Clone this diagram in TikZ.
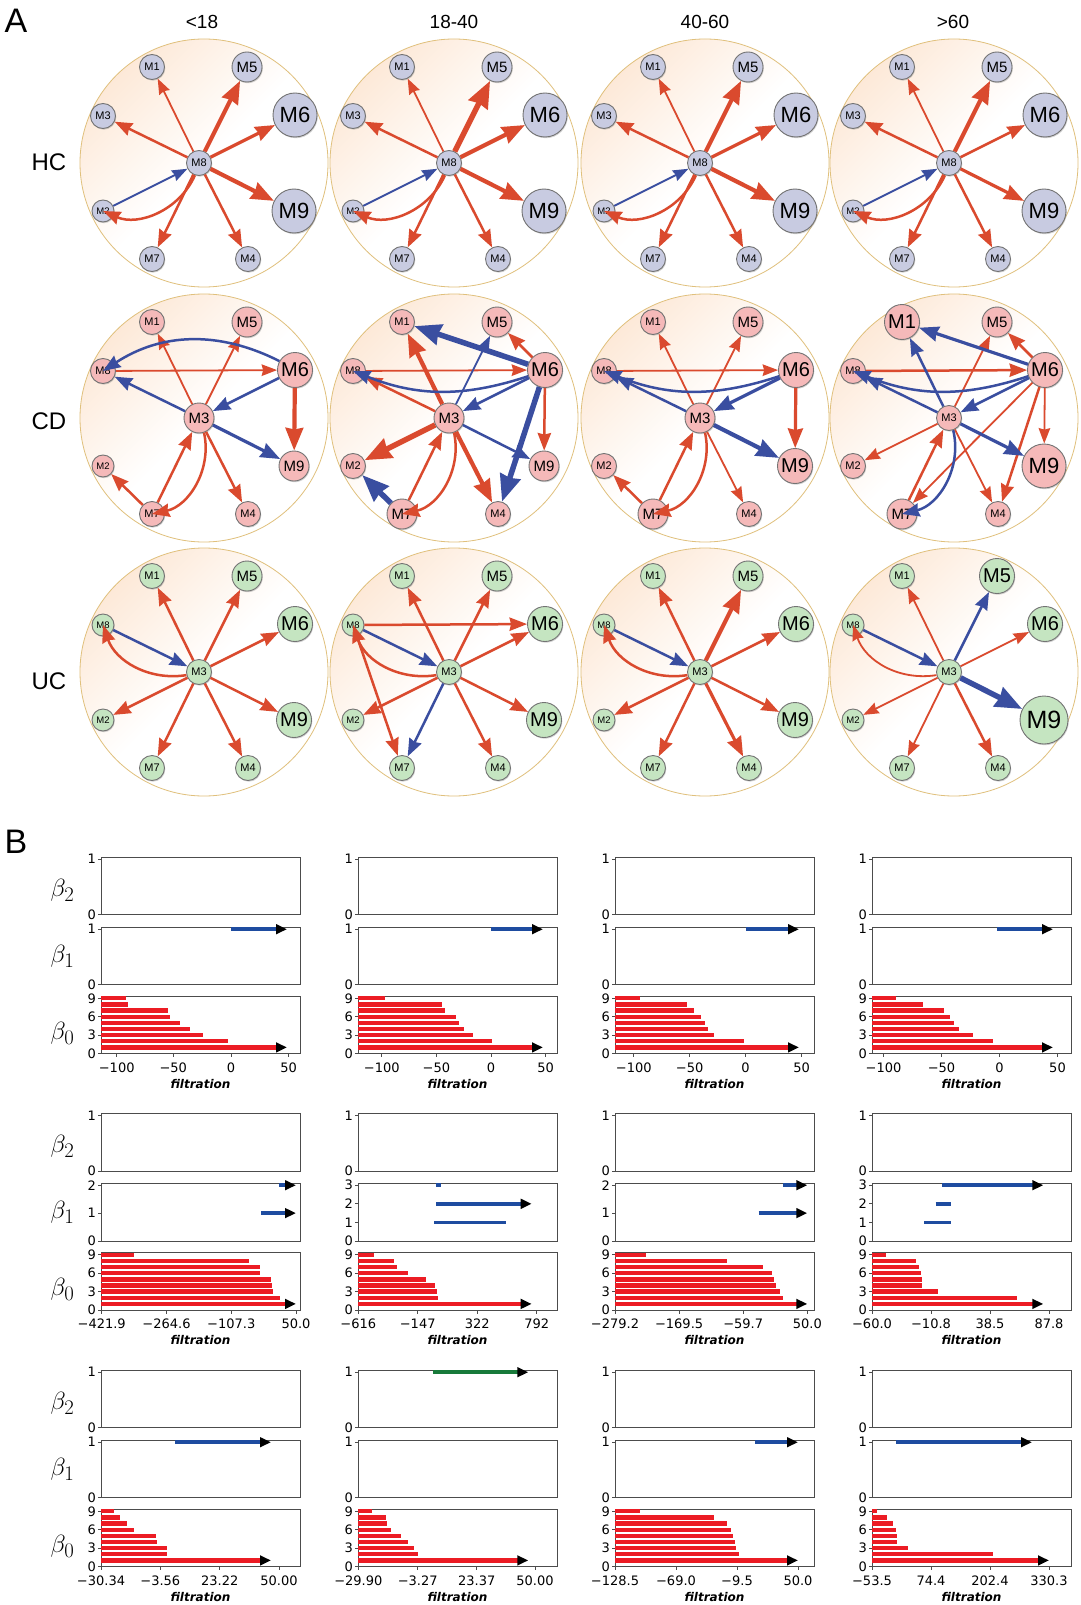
\documentclass[tikz,border=0pt]{standalone}
\usepackage{fontspec}
\setmainfont{Liberation Sans}
\newfontfamily\dejavu{DejaVu Sans}
\usetikzlibrary{arrows.meta,shadows}

\definecolor{hcfill}{RGB}{200,203,225}
\definecolor{cdfill}{RGB}{245,185,185}
\definecolor{ucfill}{RGB}{197,229,193}
\definecolor{ered}{RGB}{218,74,46}
\definecolor{eblue}{RGB}{58,78,160}
\definecolor{ringline}{RGB}{224,192,124}
\definecolor{ringfill}{RGB}{253,233,216}
\definecolor{bred}{RGB}{236,28,36}
\definecolor{bblue}{RGB}{30,76,160}
\definecolor{bgreen}{RGB}{24,122,58}

\tikzset{
  mnode/.style={circle, draw=black!55, line width=0.9pt, inner sep=0pt,
    drop shadow={shadow xshift=0.8pt, shadow yshift=-1.2pt, opacity=0.35}},
  n1/.style={minimum size=22pt, font=\fontsize{9.5}{9.5}\selectfont},
  n2/.style={minimum size=25pt, font=\fontsize{11}{11}\selectfont},
  n3/.style={minimum size=30pt, font=\fontsize{15}{15}\selectfont},
  n4/.style={minimum size=35pt, font=\fontsize{20}{20}\selectfont},
  n5/.style={minimum size=44pt, font=\fontsize{22}{22}\selectfont},
  n6/.style={minimum size=48pt, font=\fontsize{25}{25}\selectfont},
  arr/.style={-{Stealth[length=10pt 3, width=7pt 2.5, inset=1.5pt]}},
  er/.style={arr, draw=ered},
  eb/.style={arr, draw=eblue},
  w1/.style={line width=1.8pt},
  w2/.style={line width=2.5pt},
  w3/.style={line width=3.2pt},
  w4/.style={line width=4.2pt},
  w5/.style={line width=5.5pt},
  axbox/.style={draw=black!70, line width=0.9pt},
  tk/.style={font=\dejavu\fontsize{13}{13}\selectfont, inner sep=0pt},
  flab/.style={font=\dejavu\bfseries\itshape\fontsize{12}{12}\selectfont},
  blab/.style={font=\Huge},
  b0/.style={draw=bred, line width=4.3pt},
  b1/.style={draw=bblue, line width=3.8pt},
  b2/.style={draw=bgreen, line width=3.8pt},
  btip/.style={-{Triangle[length=11pt, width=9.5pt, color=black]}},
  hdr/.style={font=\fontsize{19}{19}\selectfont},
  rowl/.style={font=\fontsize{24}{24}\selectfont},
  big/.style={font=\fontsize{34}{34}\selectfont}
}

% ring background and the nine places on it
\newcommand{\ring}{\shadedraw[top color=ringfill, bottom color=white, middle color=white,
  shading angle=45, draw=ringline, line width=0.8pt] (0,0) circle[radius=124];}
\newcommand{\slots}{%
  \coordinate (tl) at (-52,-96); \coordinate (tr) at (43,-96);
  \coordinate (ul) at (-101,-47); \coordinate (ur) at (91,-48);
  \coordinate (c) at (-5,0);
  \coordinate (ll) at (-101,48); \coordinate (lr) at (90,48);
  \coordinate (bl) at (-52,96); \coordinate (br) at (44,96);}
\newcommand{\mods}[2]{\foreach \n/\p/\s in {#2} \node[mnode, fill=#1, \s] (\n) at (\p) {\n};}

% barcode axes
\newcommand{\frames}{%
  \foreach \y in {0,70,139} \draw[axbox] (0,\y) rectangle (199,{\y+57.5});
  \foreach \v/\y in {0/57.5, 1/2.2} {\draw[axbox] (0,\y) -- (-3.5,\y); \node[tk, anchor=east] at (-5,\y) {\v};}
  \foreach \k in {0,3,6,9} {\draw[axbox] (0,{196.5-6.13*\k}) -- ++(-3.5,0);
    \node[tk, anchor=east] at (-5,{196.5-6.13*\k}) {\k};}
  \node[flab] (flt) at (99.5,227) {filtration};}
\newcommand{\bone}[1]{\foreach \v/\y in {#1} {\draw[axbox] (0,\y) -- (-3.5,\y); \node[tk, anchor=east] at (-5,\y) {\v};}}
\newcommand{\xt}[1]{\foreach \p/\t in {#1} {\draw[axbox] (\p,196.5) -- (\p,200); \node[tk] at (\p,210.5) {\t};}}
\newcommand{\bzero}[2]{\foreach \e/\k in {#1} \draw[b0] (0,{196.5-6.13*\k}) -- (\e,{196.5-6.13*\k});
  \draw[b0,btip] (0,190.4) -- (#2,190.4);}
\newcommand{\betas}{\foreach \y/\b in {33/2, 99/1, 176/0} \node[blab] at (-38.5,\y) {$\beta_{\b}$};}

\begin{document}
\begin{tikzpicture}[x=1pt, y=-1pt]
\useasboundingbox (0,0) rectangle (1080,1605);
\fill[white] (0,0) rectangle (1080,1605);

\node[big] (labA) at (16,21) {A};
\node[big] (labB) at (16,842) {B};
\foreach \x/\t [count=\i] in {202/{<18}, 454/{18-40}, 705/{40-60}, 953/{>60}}
  \node[hdr] (col\i) at (\x,22) {\t};
\foreach \y/\t in {162/HC, 421/CD, 681/UC}
  \node[rowl] (row\t) at (49,\y) {\t};

% HC row
\foreach \cx/\k/\wa/\wb/\wc in {204/1/w4/w3/w4, 454/2/w5/w4/w4, 705/3/w4/w3/w4, 954/4/w4/w2/w3}{
  \begin{scope}[shift={(\cx,163)}, name prefix=hc\k-]
    \ring \slots
    \mods{hcfill}{M1/tl/n2, M5/tr/n3, M3/ul/n2, M6/ur/n5, M8/c/n2, M2/ll/n1, M9/lr/n5, M7/bl/n2, M4/br/n2}
    \foreach \a/\b/\w in {M8/M1/w1, M8/M3/w2, M8/M4/w2, M8/M7/w2}
      \draw[er,\w] (\a) -- (\b);
    \draw[er,\wa] (M8) -- (M5);
    \draw[er,\wb] (M8) -- (M6);
    \draw[er,\wc] (M8) -- (M9);
    \draw[eb,w1] (M2) -- (M8);
    \draw[er,w2] (M8) to[bend left=45] (M2);
  \end{scope}
}

% CD row
\begin{scope}[shift={(204,418)}, name prefix=cd1-]
  \ring \slots
  \mods{cdfill}{M1/tl/n2, M5/tr/n3, M8/ul/n2, M6/ur/n4, M3/c/n3, M2/ll/n1, M9/lr/n3, M7/bl/n2, M4/br/n2}
  \foreach \a/\b/\w in {M3/M1/w1, M3/M5/w1, M8/M6/w1, M6/M9/w4, M3/M4/w2, M7/M3/w2, M7/M2/w2}
    \draw[er,\w] (\a) -- (\b);
  \foreach \a/\b/\w in {M3/M8/w2, M6/M3/w2, M3/M9/w3}
    \draw[eb,\w] (\a) -- (\b);
  \draw[eb,w2] (M6) to[bend right=30] (M8);
  \draw[er,w2] (M3) to[bend left=45] (M7);
\end{scope}

\begin{scope}[shift={(454,418)}, name prefix=cd2-]
  \ring \slots
  \mods{cdfill}{M1/tl/n2, M5/tr/n3, M8/ul/n2, M6/ur/n4, M3/c/n3, M2/ll/n2, M9/lr/n3, M7/bl/n3, M4/br/n2}
  \foreach \a/\b/\w in {M6/M5/w2, M8/M6/w1, M3/M8/w2, M3/M1/w4, M3/M2/w5, M6/M9/w2, M3/M4/w4, M7/M3/w2}
    \draw[er,\w] (\a) -- (\b);
  \foreach \a/\b/\w in {M6/M1/w5, M3/M5/w1, M6/M3/w2, M3/M9/w2, M6/M4/w5, M7/M2/w5}
    \draw[eb,\w] (\a) -- (\b);
  \draw[eb,w2] (M6) to[bend left=20] (M8);
  \draw[er,w2] (M3) to[bend left=45] (M7);
\end{scope}

\begin{scope}[shift={(705,418)}, name prefix=cd3-]
  \ring \slots
  \mods{cdfill}{M1/tl/n2, M5/tr/n3, M8/ul/n2, M6/ur/n4, M3/c/n3, M2/ll/n2, M9/lr/n4, M7/bl/n3, M4/br/n2}
  \foreach \a/\b/\w in {M3/M1/w1, M3/M5/w1, M8/M6/w1, M6/M9/w3, M3/M4/w1, M7/M3/w2, M7/M2/w2}
    \draw[er,\w] (\a) -- (\b);
  \foreach \a/\b/\w in {M3/M8/w2, M6/M3/w3, M3/M9/w4}
    \draw[eb,\w] (\a) -- (\b);
  \draw[eb,w2] (M6) to[bend left=20] (M8);
  \draw[er,w2] (M3) to[bend left=45] (M7);
\end{scope}

\begin{scope}[shift={(954,418)}, name prefix=cd4-]
  \ring \slots
  \mods{cdfill}{M1/tl/n4, M5/tr/n3, M8/ul/n2, M6/ur/n4, M3/c/n2, M2/ll/n2, M9/lr/n5, M7/bl/n3, M4/br/n2}
  \foreach \a/\b/\w in {M6/M5/w2, M8/M6/w2, M3/M5/w1, M6/M7/w1, M6/M4/w2, M6/M9/w1, M3/M2/w1, M3/M4/w1, M7/M3/w2}
    \draw[er,\w] (\a) -- (\b);
  \foreach \a/\b/\w in {M6/M1/w3, M3/M8/w2, M3/M1/w2, M6/M3/w2, M3/M9/w3}
    \draw[eb,\w] (\a) -- (\b);
  \draw[eb,w2] (M6) to[bend left=20] (M8);
  \draw[eb,w2] (M3) to[bend left=45] (M7);
\end{scope}

% UC row
\begin{scope}[shift={(204,672)}, name prefix=uc1-]
  \ring \slots
  \mods{ucfill}{M1/tl/n2, M5/tr/n3, M8/ul/n1, M6/ur/n4, M3/c/n2, M2/ll/n1, M9/lr/n4, M7/bl/n2, M4/br/n2}
  \foreach \a/\b/\w in {M3/M1/w2, M3/M5/w2, M3/M6/w2, M3/M9/w2, M3/M4/w2, M3/M7/w2, M3/M2/w2}
    \draw[er,\w] (\a) -- (\b);
  \draw[eb,w2] (M8) -- (M3);
  \draw[er,w2] (M3) to[bend left=40] (M8);
\end{scope}

\begin{scope}[shift={(454,672)}, name prefix=uc2-]
  \ring \slots
  \mods{ucfill}{M1/tl/n2, M5/tr/n3, M8/ul/n1, M6/ur/n4, M3/c/n2, M2/ll/n1, M9/lr/n4, M7/bl/n2, M4/br/n2}
  \foreach \a/\b/\w in {M8/M6/w2, M8/M7/w2, M3/M1/w2, M3/M5/w2, M3/M6/w2, M3/M9/w2, M3/M4/w2, M3/M2/w2}
    \draw[er,\w] (\a) -- (\b);
  \foreach \a/\b/\w in {M8/M3/w2, M3/M7/w2}
    \draw[eb,\w] (\a) -- (\b);
  \draw[er,w2] (M3) to[bend left=40] (M8);
\end{scope}

\begin{scope}[shift={(705,672)}, name prefix=uc3-]
  \ring \slots
  \mods{ucfill}{M1/tl/n2, M5/tr/n3, M8/ul/n1, M6/ur/n4, M3/c/n2, M2/ll/n1, M9/lr/n4, M7/bl/n2, M4/br/n2}
  \foreach \a/\b/\w in {M3/M1/w2, M3/M5/w4, M3/M6/w2, M3/M9/w2, M3/M4/w3, M3/M7/w2, M3/M2/w2}
    \draw[er,\w] (\a) -- (\b);
  \draw[eb,w2] (M8) -- (M3);
  \draw[er,w2] (M3) to[bend left=40] (M8);
\end{scope}

\begin{scope}[shift={(954,672)}, name prefix=uc4-]
  \ring \slots
  \mods{ucfill}{M1/tl/n2, M5/tr/n4, M8/ul/n1, M6/ur/n4, M3/c/n2, M2/ll/n1, M9/lr/n6, M7/bl/n2, M4/br/n2}
  \foreach \a/\b/\w in {M3/M1/w1, M3/M6/w1, M3/M4/w2, M3/M7/w1, M3/M2/w1}
    \draw[er,\w] (\a) -- (\b);
  \foreach \a/\b/\w in {M3/M5/w2, M3/M9/w5, M8/M3/w2}
    \draw[eb,\w] (\a) -- (\b);
  \draw[er,w1] (M3) to[bend left=40] (M8);
\end{scope}

% barcodes, HC
\begin{scope}[shift={(101,857)}]
  \frames \betas \bone{0/127.5, 1/72.2}
  \xt{15.7/−100, 72.3/−50, 130/0, 187.7/50}
  \draw[b1,btip] (130,72.2) -- (186,72.2);
  \bzero{25/9, 27/8, 67.3/7, 69.3/6, 79/5, 89/4, 102.3/3, 126.7/2}{186}
\end{scope}
\begin{scope}[shift={(358,857)}]
  \frames \bone{0/127.5, 1/72.2}
  \xt{23.8/−100, 78.4/−50, 133/0, 187.6/50}
  \draw[b1,btip] (133,72.2) -- (185,72.2);
  \bzero{27/9, 84.2/8, 87.3/7, 97.5/6, 100.6/5, 105.7/4, 115/3, 134.4/2}{185}
\end{scope}
\begin{scope}[shift={(615,857)}]
  \frames \bone{0/127.5, 1/72.2}
  \xt{18.7/−100, 74.7/−50, 130.6/0, 186.6/50}
  \draw[b1,btip] (130.6,72.2) -- (184,72.2);
  \bzero{24.8/9, 71.9/8, 79/7, 86.2/6, 90.3/5, 93.4/4, 98.5/3, 129.2/2}{184}
\end{scope}
\begin{scope}[shift={(872,857)}]
  \frames \bone{0/127.5, 1/72.2}
  \xt{11.5/−100, 69.5/−50, 127.5/0, 185.5/50}
  \draw[b1,btip] (125,72.2) -- (181,72.2);
  \bzero{23.7/9, 51.4/8, 71.8/7, 78/6, 82.1/5, 87.2/4, 100.5/3, 121/2}{181}
\end{scope}

% barcodes, CD
\begin{scope}[shift={(101,1113.5)}]
  \frames \betas \bone{0/127.5, 1/99.6, 2/71.7}
  \xt{0.7/−421.9, 65.5/−264.6, 130.3/−107.3, 195/50.0}
  \draw[b1,btip] (178.3,71.7) -- (195,71.7);
  \draw[b1,btip] (160,99.6) -- (195,99.6);
  \bzero{33/9, 148.3/8, 158.7/7, 159/6, 169.7/5, 171.3/4, 172.3/3, 179/2}{195}
\end{scope}
\begin{scope}[shift={(358,1113.5)}]
  \frames \bone{0/127.5, 1/108.9, 2/90.3, 3/71.7}
  \xt{0.3/−616, 59.7/−147, 119.3/322, 178.7/792}
  \draw[b1] (78,71.7) -- (82.7,71.7);
  \draw[b1,btip] (78,90.3) -- (173.7,90.3);
  \draw[b1] (76.3,108.9) -- (147.7,108.9);
  \bzero{16/9, 36.3/8, 38.7/7, 50.3/6, 68/5, 77/4, 79.3/3, 80.3/2}{173.7}
\end{scope}
\begin{scope}[shift={(615,1113.5)}]
  \frames \bone{0/127.5, 1/99.6, 2/71.7}
  \xt{0/−279.2, 64.1/−169.5, 128.2/−59.7, 192.3/50.0}
  \draw[b1,btip] (168.3,71.7) -- (192.3,71.7);
  \draw[b1,btip] (143.7,99.6) -- (192.3,99.6);
  \bzero{31/9, 111.7/8, 148.3/7, 157.3/6, 158.7/5, 161/4, 165/3, 168.3/2}{192.3}
\end{scope}
\begin{scope}[shift={(872,1113.5)}]
  \frames \bone{0/127.5, 1/108.9, 2/90.3, 3/71.7}
  \xt{0/−60.0, 59/−10.8, 118/38.5, 177/87.8}
  \draw[b1,btip] (70.3,71.7) -- (171.3,71.7);
  \draw[b1] (63.7,90.3) -- (79,90.3);
  \draw[b1] (52.3,108.9) -- (79,108.9);
  \bzero{14/9, 43.7/8, 47.3/7, 48.7/6, 49.7/5, 50.3/4, 66/3, 144.7/2}{171.3}
\end{scope}

% barcodes, UC
\begin{scope}[shift={(101,1370)}]
  \frames \betas \bone{0/127.5, 1/72.2}
  \xt{0/−30.34, 59.3/−3.56, 118.7/23.22, 178/50.00}
  \draw[b1,btip] (74,72.2) -- (170,72.2);
  \bzero{12.6/9, 18.8/8, 26/7, 33.1/6, 54.6/5, 55.6/4, 65.9/3, 66/2}{170}
\end{scope}
\begin{scope}[shift={(358,1370)}]
  \frames \bone{0/127.5, 1/72.2}
  \xt{0.3/−29.90, 59.7/−3.27, 118.7/23.37, 177/50.00}
  \draw[b2,btip] (75.3,2.2) -- (170.3,2.2);
  \bzero{13.7/9, 28/8, 28.7/7, 32.7/6, 42.7/5, 50.3/4, 56.3/3, 60.3/2}{170.3}
\end{scope}
\begin{scope}[shift={(615,1370)}]
  \frames \bone{0/127.5, 1/72.2}
  \xt{0/−128.5, 61/−69.0, 122/−9.5, 183/50.0}
  \draw[b1,btip] (139.5,72.2) -- (183,72.2);
  \bzero{24.8/9, 98.5/8, 111.8/7, 115.9/6, 118/5, 120/4, 121/3, 124/2}{183}
\end{scope}
\begin{scope}[shift={(872,1370)}]
  \frames \bone{0/127.5, 1/72.2}
  \xt{0/−53.5, 59/74.4, 118/202.4, 177/330.3}
  \draw[b1,btip] (23.7,72.2) -- (160,72.2);
  \bzero{5.3/9, 14.5/8, 20.7/7, 23.7/6, 24.8/5, 24.8/4, 36/3, 121/2}{177}
\end{scope}
\end{tikzpicture}
\end{document}
